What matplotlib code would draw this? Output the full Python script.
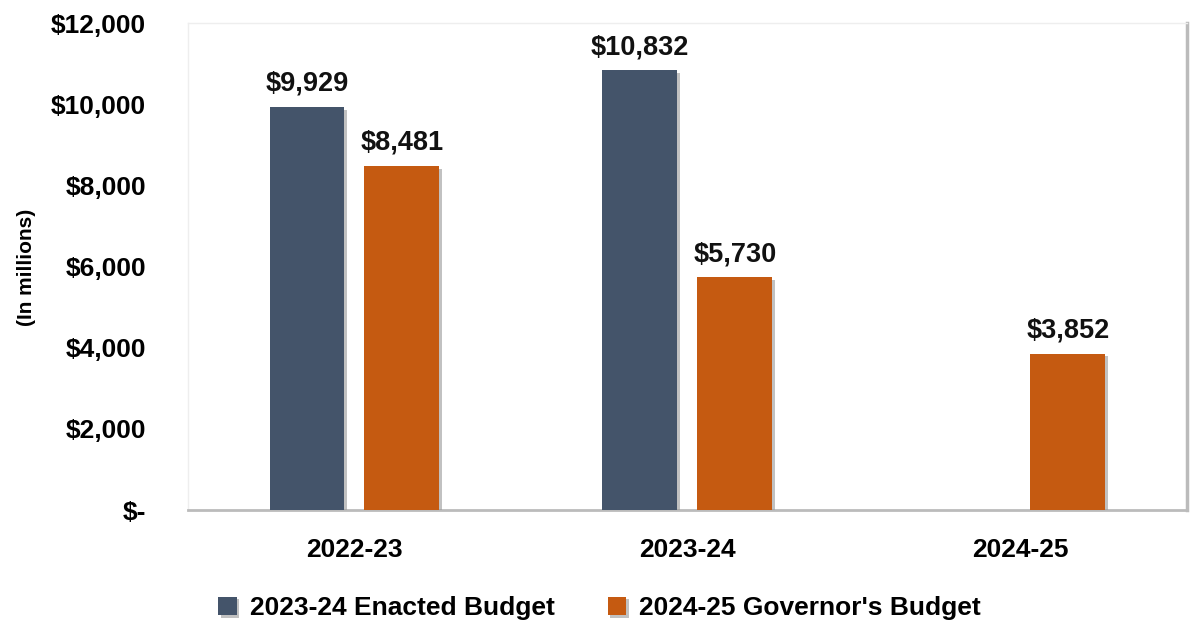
import matplotlib
matplotlib.use("Agg")
import matplotlib.pyplot as plt
import matplotlib.patheffects as pe
import numpy as np

categories = ["2022-23", "2023-24", "2024-25"]
enacted = [9929, 10832, np.nan]
governor = [8481, 5730, 3852]
series_names = ["2023-24 Enacted Budget", "2024-25 Governor's Budget"]
yticks = [0, 2000, 4000, 6000, 8000, 10000, 12000]
ytick_labels = ["$-", "$2,000", "$4,000", "$6,000", "$8,000", "$10,000", "$12,000"]

plt.rcParams['font.family'] = ['Liberation Sans Narrow', 'Liberation Sans', 'DejaVu Sans']
plt.rcParams['font.weight'] = 'bold'

c_dark = "#44546A"
c_orange = "#C55A11"

fig = plt.figure(figsize=(11.92, 6.27), dpi=100)
ax = fig.add_axes([0.1577, 0.1866, 0.838, 0.7767])

x = np.arange(len(categories))
w = 0.225
off = 0.1426
shadow = [pe.SimplePatchShadow(offset=(2, -2), shadow_rgbFace="#999999", alpha=0.6), pe.Normal()]
b1 = ax.bar(x - off, enacted, width=w, color=c_dark, label=series_names[0], path_effects=shadow, zorder=3)
b2 = ax.bar(x + off, governor, width=w, color=c_orange, label=series_names[1], path_effects=shadow, zorder=3)

for xs, vals in ((x - off, enacted), (x + off, governor)):
    for xi, v in zip(xs, vals):
        if np.isnan(v):
            continue
        ax.text(xi, v + 250, f"${v:,.0f}", ha="center", va="bottom", fontsize=19.5, fontweight="bold", color="#111111")

ax.set_xlim(-0.5, 2.5)
ax.set_ylim(0, 12000)
ax.set_yticks(yticks)
ax.set_yticklabels(ytick_labels, fontsize=19, fontweight="bold")
ax.set_xticks(x)
ax.set_xticklabels(categories, fontsize=19, fontweight="bold")
ax.tick_params(axis="x", length=0, pad=20)
ax.tick_params(axis="y", length=0, pad=30)

for s in ["top", "left"]:
    ax.spines[s].set_color("#eeeeee")
    ax.spines[s].set_linewidth(1)
ax.spines["right"].set_color("#bbbbbb")
ax.spines["right"].set_linewidth(2.5)
ax.spines["bottom"].set_color("#bbbbbb")
ax.spines["bottom"].set_linewidth(2)

fig.text(0.022, 0.573, "(In millions)", rotation=90, ha="center", va="center", fontsize=15, fontweight="bold")

leg = fig.legend(handles=[b1, b2], labels=series_names, loc="center", bbox_to_anchor=(0.503, 0.03),
                 ncol=2, frameon=False, fontsize=19, handlelength=0.7, handleheight=0.7,
                 handletextpad=0.5, columnspacing=2.0)
for t in leg.get_texts():
    t.set_fontweight("bold")

fig.savefig("out.png", dpi=100)
